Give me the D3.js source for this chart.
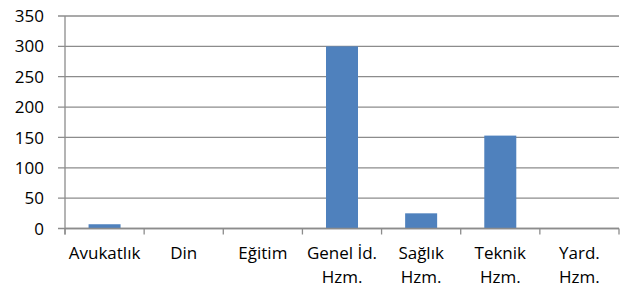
<!DOCTYPE html>
<html>
<head>
<meta charset="utf-8">
<script src="https://cdn.jsdelivr.net/npm/d3@7"></script>
<style>
  body { margin: 0; background: #fff; }
  text { font-family: "Open Sans", sans-serif; fill: #000; }
</style>
</head>
<body>
<div id="chart"></div>
<script>
// data
var categories = [["Avukatlık"], ["Din"], ["Eğitim"], ["Genel İd.", "Hzm."], ["Sağlık", "Hzm."], ["Teknik", "Hzm."], ["Yard.", "Hzm."]];
var values = [7, 0, 0, 300, 25, 153, 0];
var yTicks = [0, 50, 100, 150, 200, 250, 300, 350];

function base() {
    var w = 631, h = 291;
    var left = 65, right = 619, top = 16, bottom = 228.5;

    var svg = d3.select("#chart").append("svg")
        .attr("width", w)
        .attr("height", h);

    var xScale = d3.scaleBand()
        .domain(d3.range(categories.length))
        .range([left, right]);

    var yScale = d3.scaleLinear()
        .domain([0, 350])
        .range([bottom, top]);

    // gridlines
    svg.selectAll("line.grid")
        .data(yTicks)
        .enter()
        .append("line")
        .attr("class", "grid")
        .attr("x1", left - 7)
        .attr("x2", right)
        .attr("y1", function(d) { return yScale(d); })
        .attr("y2", function(d) { return yScale(d); })
        .attr("stroke", "#8c8c8c")
        .attr("stroke-width", 1.3);

    // y labels
    svg.selectAll("text.ylab")
        .data(yTicks)
        .enter()
        .append("text")
        .attr("class", "ylab")
        .attr("x", 44)
        .attr("y", function(d) { return yScale(d); })
        .attr("dy", "0.36em")
        .attr("text-anchor", "end")
        .style("font-size", "17px")
        .text(function(d) { return d; });

    // bars
    var bw = 32;
    svg.selectAll("rect.bar")
        .data(values)
        .enter()
        .append("rect")
        .attr("class", "bar")
        .attr("x", function(d, i) { return xScale(i) + xScale.bandwidth() / 2 - bw / 2; })
        .attr("y", function(d) { return yScale(d); })
        .attr("width", bw)
        .attr("height", function(d) { return yScale(0) - yScale(d); })
        .attr("fill", "#4f81bd");

    // axes lines
    svg.append("line")
        .attr("x1", left).attr("x2", left)
        .attr("y1", top).attr("y2", bottom + 6)
        .attr("stroke", "#8c8c8c").attr("stroke-width", 1.3);
    svg.append("line")
        .attr("x1", left).attr("x2", right)
        .attr("y1", bottom).attr("y2", bottom)
        .attr("stroke", "#8c8c8c").attr("stroke-width", 1.3);

    // x ticks at band edges
    var edges = d3.range(categories.length + 1).map(function(i) {
        return i < categories.length ? xScale(i) : right;
    });
    svg.selectAll("line.xtick")
        .data(edges)
        .enter()
        .append("line")
        .attr("class", "xtick")
        .attr("x1", function(d) { return d; })
        .attr("x2", function(d) { return d; })
        .attr("y1", bottom)
        .attr("y2", bottom + 6)
        .attr("stroke", "#8c8c8c").attr("stroke-width", 1.3);

    // category labels
    var labels = svg.selectAll("text.xlab")
        .data(categories)
        .enter()
        .append("text")
        .attr("class", "xlab")
        .attr("text-anchor", "middle")
        .style("font-size", "17px");
    labels.selectAll("tspan")
        .data(function(d, i) { return d.map(function(s) { return { s: s, i: i }; }); })
        .enter()
        .append("tspan")
        .attr("x", function(d) { return xScale(d.i) + xScale.bandwidth() / 2; })
        .attr("y", function(d, j) { return 259 + j * 24; })
        .text(function(d) { return d.s; });
}

window.onload = base;
</script>
</body>
</html>
